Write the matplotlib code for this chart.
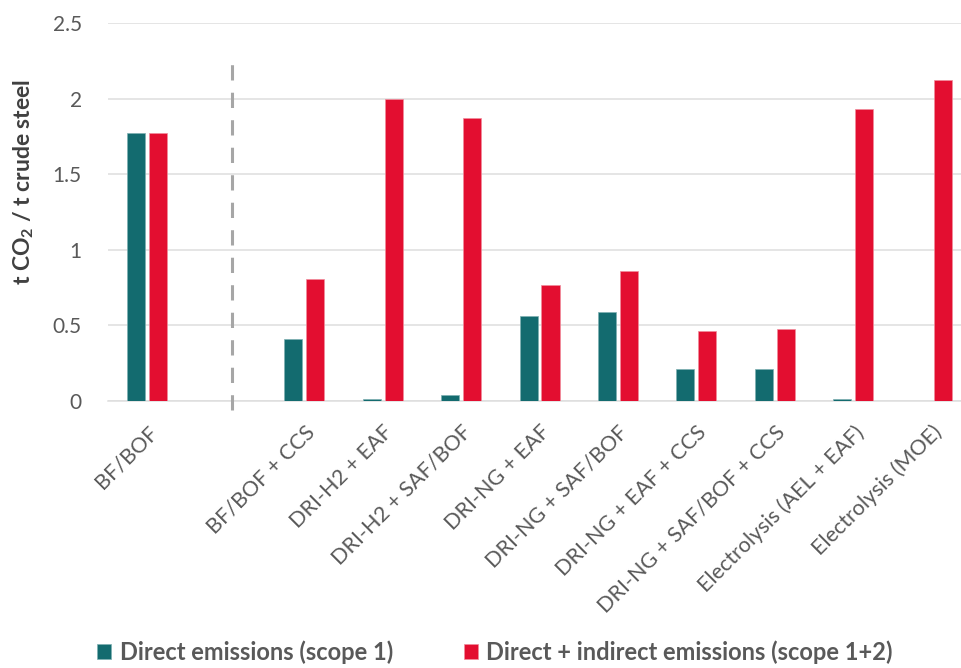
import matplotlib.pyplot as plt
import numpy as np

plt.rcParams['font.family'] = ['Lato', 'DejaVu Sans']

routes = ["BF/BOF", "", "BF/BOF + CCS", "DRI-H2 + EAF", "DRI-H2 + SAF/BOF",
          "DRI-NG + EAF", "DRI-NG + SAF/BOF", "DRI-NG + EAF + CCS",
          "DRI-NG + SAF/BOF + CCS", "Electrolysis (AEL + EAF)", "Electrolysis (MOE)"]
# scope 1 and scope 1+2, t CO2 per t crude steel (nan = no bar)
direct = [1.77, np.nan, 0.41, 0.01, 0.04, 0.56, 0.59, 0.21, 0.21, 0.01, np.nan]
total = [1.77, np.nan, 0.81, 2.00, 1.87, 0.77, 0.86, 0.46, 0.475, 1.93, 2.12]
yticks = [0, 0.5, 1, 1.5, 2, 2.5]
ytick_labels = ["0", "0.5", "1", "1.5", "2", "2.5"]

teal = "#136b6f"
red = "#e30e30"
grey = "#595959"

fig = plt.figure(figsize=(9.61, 6.68), dpi=100)
ax = fig.add_axes([0.1124, 0.3997, 0.8980, 0.5659])

x = np.arange(len(routes))
w = 0.23
ax.bar(x - 0.14, direct, w, color=teal, edgecolor="#7fb0b2", linewidth=0.5,
       label="Direct emissions (scope 1)", zorder=3)
ax.bar(x + 0.14, total, w, color=red, edgecolor="#f08c9c", linewidth=0.5,
       label="Direct + indirect emissions (scope 1+2)", zorder=3)

# separator between the reference route and the alternatives
ax.plot([1.08, 1.08], [-0.06, 2.27], color="#a6a6a6", lw=2.2,
        dashes=(5, 4), clip_on=False, zorder=4)

ax.set_xlim(-0.5, 10.5)
ax.set_ylim(0, 2.5)
ax.set_yticks(yticks)
ax.set_yticklabels(ytick_labels, fontsize=15, color=grey)
ax.yaxis.grid(True, color="#dedede", lw=1.1, zorder=0)
ax.tick_params(axis="y", length=0, pad=19)

ax.set_xticks(x[[0] + list(range(2, len(routes)))])
ax.set_xticklabels([r for r in routes if r], fontsize=15.5, color=grey,
                   rotation=45, ha="right", va="top", rotation_mode="anchor")
ax.tick_params(axis="x", length=0, pad=15)

for s in ["top", "right", "left"]:
    ax.spines[s].set_visible(False)
ax.spines["bottom"].set_color("#dedede")
ax.spines["bottom"].set_linewidth(1.1)

ax.set_ylabel(r"t CO$_\mathregular{2}$ / t crude steel", fontsize=16.5,
              fontweight="bold", color="#404040")
ax.yaxis.set_label_coords(-0.083, 0.58)

leg = fig.legend(loc="lower center", ncol=2, bbox_to_anchor=(0.515, -0.026),
                 frameon=False, handlelength=0.6, handleheight=0.6,
                 handletextpad=0.35, columnspacing=3.0,
                 prop={"size": 17, "weight": "bold"})
for t in leg.get_texts():
    t.set_color(grey)

fig.savefig("out.png", dpi=100)
